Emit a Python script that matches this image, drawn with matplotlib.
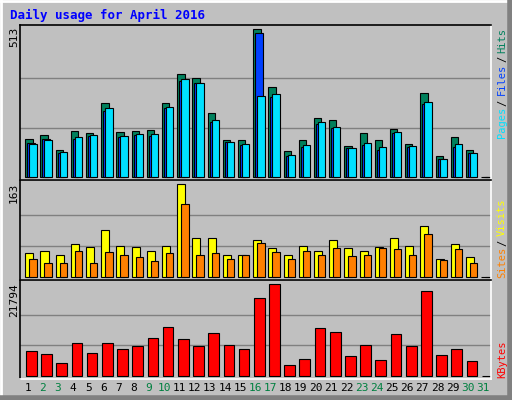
import numpy as np
import matplotlib
matplotlib.use('Agg')
import matplotlib.pyplot as plt

# Daily usage, April 2016 (webalizer style)
days = list(range(1, 32))
hits = [130, 144, 92, 158, 151, 255, 154, 158, 161, 255, 356, 342, 221, 127, 127,
        513, 311, 88, 127, 203, 199, 106, 151, 127, 165, 113, 290, 71, 137, 92, 0]
files = [116, 130, 83, 132, 142, 230, 139, 145, 141, 238, 333, 325, 192, 120, 110,
         499, 276, 71, 102, 185, 168, 99, 110, 92, 151, 102, 252, 60, 102, 81, 0]
pages = [113, 127, 85, 137, 144, 238, 141, 148, 148, 241, 339, 325, 196, 120, 113,
         280, 287, 74, 109, 189, 172, 99, 116, 102, 154, 106, 259, 60, 113, 81, 0]
visits = [41, 45, 38, 57, 52, 82, 54, 52, 46, 54, 163, 68, 68, 38, 39,
          64, 50, 39, 54, 46, 64, 50, 45, 52, 68, 55, 89, 31, 57, 34, 0]
sites = [32, 24, 24, 45, 25, 43, 39, 34, 27, 41, 129, 39, 41, 31, 38,
         59, 43, 32, 45, 38, 50, 36, 38, 50, 48, 39, 76, 29, 48, 24, 0]
kbytes = [5806, 5091, 2943, 7715, 5329, 7715, 6284, 7000, 8909, 11533, 8670, 7000,
          10102, 7238, 6284, 18453, 21794, 2466, 3897, 11295, 10340, 4613, 7238,
          3659, 9863, 7000, 20124, 4852, 6284, 3420, 0]
weekend = [2, 3, 9, 10, 16, 17, 23, 24, 30, 31]

W, H = 512, 400
bg = '#c0c0c0'
fig = plt.figure(figsize=(W / 100, H / 100), dpi=100, facecolor=bg)

def px_axes(x0, y0, x1, y1):
    return fig.add_axes([x0 / W, 1 - y1 / H, (x1 - x0) / W, (y1 - y0) / H])

step = 470.7 / 31
slot = np.array(days) - 1

def panel(ax, top_val, bot_px, top_px, height_px):
    # map value to panel so bars sit bot_px above axis bottom, max bar top_px below axis top
    span = top_val / (height_px - bot_px - top_px) * height_px
    ax.set_ylim(-bot_px / height_px * span, -bot_px / height_px * span + span)
    ax.set_xlim(0, 470.7)
    ax.set_facecolor(bg)
    ax.set_xticks([])
    ax.set_yticks([])
    for g in (top_val / 3, 2 * top_val / 3):
        ax.axhline(g, color='#808080', lw=1, zorder=0)
    ax.spines['top'].set_color('black')
    ax.spines['left'].set_color('black')
    ax.spines['bottom'].set_color('white')
    ax.spines['right'].set_color('white')
    for s in ax.spines.values():
        s.set_linewidth(1.2)

kw = dict(align='edge', edgecolor='black', linewidth=0.8)

ax1 = px_axes(20, 25, 491, 180)
panel(ax1, 513, 3.3, 4.3, 155)
ax1.bar(slot * step + 5.3, hits, 7.3, color='#00805c', **kw)
ax1.bar(slot * step + 7.3, files, 7.3, color='#0040ff', **kw)
ax1.bar(slot * step + 9.3, pages, 7.3, color='#00e0ff', **kw)

ax2 = px_axes(20, 180, 491, 280)
panel(ax2, 163, 3.3, 4.3, 100)
ax2.bar(slot * step + 5.3, visits, 8, color='#ffff00', **kw)
ax2.bar(slot * step + 9.3, sites, 7.3, color='#ff8000', **kw)

ax3 = px_axes(20, 280, 491, 379)
panel(ax3, 21794, 3.3, 4.3, 99)
ax3.bar(slot * step + 6, kbytes, 10.7, color='#ff0000', **kw)

# outer 3D border
fig.add_artist(plt.Line2D([0, 1], [1 - 1 / H, 1 - 1 / H], color='white', lw=2))
fig.add_artist(plt.Line2D([1 / W, 1 / W], [0, 1], color='white', lw=2))
fig.add_artist(plt.Line2D([0, 1], [2 / H, 2 / H], color='#808080', lw=4))
fig.add_artist(plt.Line2D([1 - 2 / W, 1 - 2 / W], [0, 1], color='#808080', lw=4))

mono = 'DejaVu Sans Mono'
def t(x, y, s, **k):
    fig.text(x / W, 1 - y / H, s, family=mono, **k)

t(10, 15, 'Daily usage for April 2016', color='#0000ff', fontsize=9, weight='bold', va='center')
for val, y in ((513, 27), (163, 183), (21794, 283)):
    t(14, y, str(val), rotation=90, ha='center', va='top', fontsize=8)

for d in days:
    t(20 + (d - 0.5) * step, 388, str(d), ha='center', va='center', fontsize=8,
      color='#008040' if d in weekend else 'black')

def vlabel(y, s, c):
    t(502, y, s, rotation=90, ha='center', va='top', fontsize=7.5, color=c)

vlabel(28, 'Hits', '#00805c')
vlabel(56, '/', 'black')
vlabel(64, 'Files', '#0040ff')
vlabel(100, '/', 'black')
vlabel(107, 'Pages', '#00e0ff')
vlabel(198, 'Visits', '#ffff00')
vlabel(240, '/', 'black')
vlabel(247, 'Sites', '#ff8000')
vlabel(340, 'KBytes', '#ff0000')

plt.savefig('out.png', dpi=100, facecolor=bg)
